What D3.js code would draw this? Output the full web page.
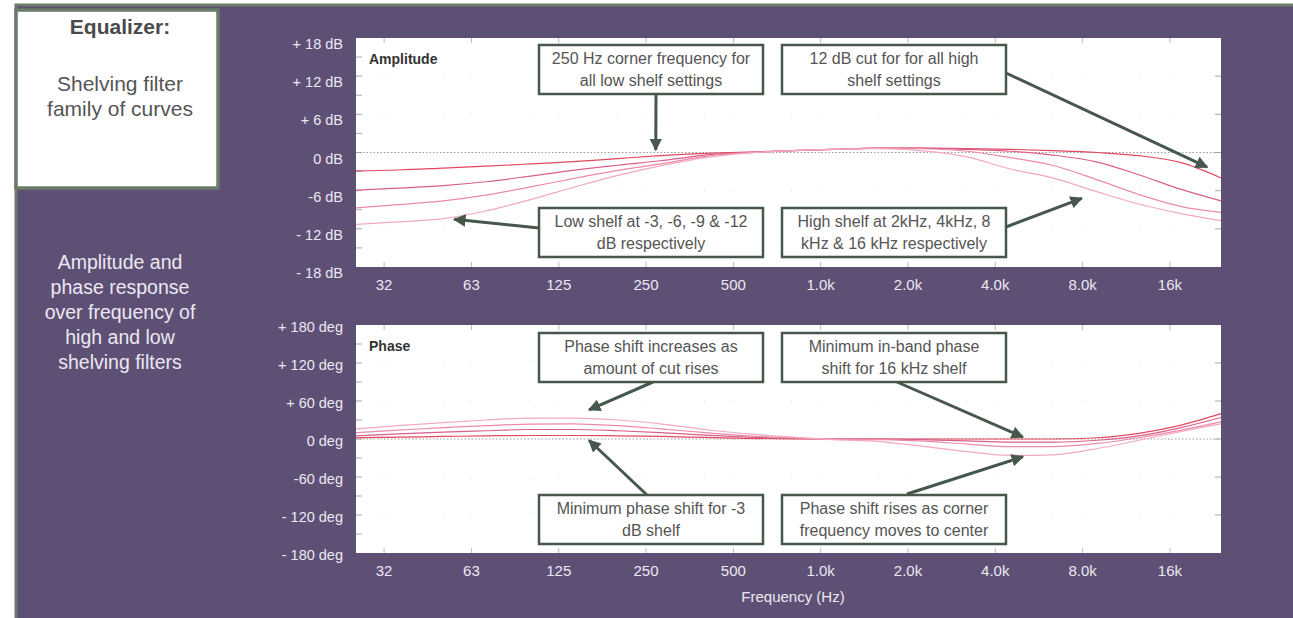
<!DOCTYPE html>
<html>
<head>
<meta charset="utf-8">
<script src="https://cdn.jsdelivr.net/npm/d3@7"></script>
<style>
  body { margin: 0; background: #fff; }
  svg { display: block; font-family: "Liberation Sans", Arial, sans-serif; }
</style>
</head>
<body>
<svg id="chart" width="1293" height="618"></svg>
<script>
// ---- data ----
var freqs = [25, 35, 50, 70, 100, 140, 200, 280, 400, 560, 800, 1100, 1600, 2200, 3200, 4500, 6300, 9000, 12500, 17500, 24000];

// amplitude (dB): low shelf -3/-6/-9/-12 combined with high shelf 16k/8k/4k/2k
var amp3dB  = [-2.9, -2.75, -2.45, -2.15, -1.8, -1.45, -0.95, -0.5, -0.15, 0.05, 0.3, 0.5, 0.7, 0.7, 0.6, 0.5, 0.3, 0.0, -0.5, -1.6, -4.0];
var amp6dB  = [-5.9, -5.6, -5.2, -4.6, -3.7, -2.8, -2.0, -1.3, -0.4, 0.0, 0.3, 0.5, 0.7, 0.7, 0.5, 0.2, -0.4, -1.5, -3.5, -5.8, -7.6];
var amp9dB  = [-8.7, -8.2, -7.6, -6.7, -5.4, -4.1, -2.8, -1.8, -0.6, -0.05, 0.3, 0.5, 0.7, 0.6, 0.2, -0.8, -2.0, -4.3, -6.6, -8.5, -9.4];
var amp12dB = [-11.3, -10.9, -10.4, -9.2, -7.4, -5.5, -3.6, -2.1, -0.8, -0.1, 0.3, 0.5, 0.6, 0.3, -0.7, -2.6, -4.0, -6.2, -8.1, -9.6, -10.7];

// phase (deg)
var ph3dB  = [2, 3, 4, 5, 5.5, 5.5, 5, 4, 2.5, 1, 0.3, 0, 0, 0, 0, 0, 0, 2, 9, 22, 40];
var ph6dB  = [5, 8, 11, 13, 15, 15, 13, 10, 6, 3, 1, 0, 0, -1, -3, -5, -5, -2, 5, 18, 34];
var ph9dB  = [10, 14, 18, 21, 23.5, 24, 21, 16, 10, 5, 2, 0, -1, -3, -8, -12, -12, -7, 2, 14, 27];
var ph12dB = [16, 21, 26, 30, 33, 33, 30, 24, 15, 8, 3, -1, -4, -11, -20, -26, -25, -15, -2, 12, 24];

var freqTicks  = [31.25, 62.5, 125, 250, 500, 1000, 2000, 4000, 8000, 16000];
var freqLabels = ["32", "63", "125", "250", "500", "1.0k", "2.0k", "4.0k", "8.0k", "16k"];
var ampTicks   = [18, 12, 6, 0, -6, -12, -18];
var ampLabels  = ["+ 18 dB", "+ 12 dB", "+ 6 dB", "0 dB", "-6 dB", "- 12 dB", "- 18 dB"];
var phTicks    = [180, 120, 60, 0, -60, -120, -180];
var phLabels   = ["+ 180 deg", "+ 120 deg", "+ 60 deg", "0 deg", "-60 deg", "- 120 deg", "- 180 deg"];

var lineColors = ["#e3485f", "#d9608a", "#ec8ba5", "#f3a9be"];

// annotations: box in pixels, arrow from box edge to a point in data space
var ampNotes = [
  {lines: ["250 Hz corner frequency for", "all low shelf settings"], box: [539, 45], from: [656, 95], to: [270, 0.4]},
  {lines: ["12 dB cut for for all high", "shelf settings"], box: [782, 45], from: [1006, 73], to: [21500, -2.3]},
  {lines: ["Low shelf at -3, -6, -9 & -12", "dB respectively"], box: [539, 208], from: [539, 228], to: [54.5, -10.5]},
  {lines: ["High shelf at 2kHz, 4kHz, 8", "kHz & 16 kHz respectively"], box: [782, 208], from: [1006, 227], to: [7950, -7.2]}
];
var phNotes = [
  {lines: ["Phase shift increases as", "amount of cut rises"], box: [539, 333], from: [653, 382], to: [159, 46]},
  {lines: ["Minimum in-band phase", "shift for 16 kHz shelf"], box: [782, 333], from: [897, 382], to: [4980, 3]},
  {lines: ["Minimum phase shift for -3", "dB shelf"], box: [539, 495], from: [647, 495], to: [159, -2]},
  {lines: ["Phase shift rises as corner", "frequency moves to center"], box: [782, 495], from: [907, 494], to: [4980, -28]}
];

var svg = d3.select("#chart");
var purple = "#5e5075", frameGreen = "#6b7b69", arrowCol = "#46574b";

svg.append("defs").append("marker")
    .attr("id", "head").attr("viewBox", "0 0 10 10")
    .attr("refX", 9).attr("refY", 5)
    .attr("markerWidth", 4.2).attr("markerHeight", 4.2)
    .attr("orient", "auto")
    .append("path").attr("d", "M0,0 L10,5 L0,10 z").attr("fill", arrowCol);

// background panel
svg.append("rect").attr("x", 16).attr("y", 5).attr("width", 1280).attr("height", 616)
    .attr("fill", purple).attr("stroke", frameGreen).attr("stroke-width", 3);

// title box
svg.append("rect").attr("x", 16).attr("y", 10).attr("width", 202).attr("height", 178)
    .attr("fill", "#fff").attr("stroke", frameGreen).attr("stroke-width", 3.5);
svg.append("text").attr("x", 120).attr("y", 34).attr("text-anchor", "middle")
    .attr("font-size", 21).attr("font-weight", "bold").attr("fill", "#4a4a4a").text("Equalizer:");
["Shelving filter", "family of curves"].forEach(function (t, i) {
    svg.append("text").attr("x", 120).attr("y", 91 + i * 25).attr("text-anchor", "middle")
        .attr("font-size", 21).attr("fill", "#555").text(t);
});
["Amplitude and", "phase response", "over frequency of", "high and low", "shelving filters"].forEach(function (t, i) {
    svg.append("text").attr("x", 120).attr("y", 269 + i * 25).attr("text-anchor", "middle")
        .attr("font-size", 19.5).attr("fill", "#ece8f2").text(t);
});

var x = d3.scaleLog().base(2).domain([25, 24000]).range([356, 1221]);

function drawPanel(top, bottom, domainMax, minorStep, majorStep, series, ticks, labels, labelDy, title, notes) {
    var y = d3.scaleLinear().domain([-domainMax, domainMax]).range([bottom, top]);
    var g = svg.append("g");
    g.append("rect").attr("x", 356).attr("y", top).attr("width", 865).attr("height", bottom - top)
        .attr("fill", "#fff");

    // faint grid
    g.selectAll(".gy").data(d3.range(-domainMax + majorStep, domainMax, majorStep).filter(function (d) { return d !== 0; }))
        .enter().append("line")
        .attr("x1", 356).attr("x2", 1221)
        .attr("y1", function (d) { return y(d); }).attr("y2", function (d) { return y(d); })
        .attr("stroke", "#d8d8d8").attr("stroke-width", 1).attr("stroke-dasharray", "1,86");
    g.selectAll(".gx").data(freqTicks).enter().append("line")
        .attr("x1", function (d) { return x(d); }).attr("x2", function (d) { return x(d); })
        .attr("y1", top).attr("y2", bottom)
        .attr("stroke", "#dcdcdc").attr("stroke-width", 1).attr("stroke-dasharray", "1,37");

    // edge ticks
    g.selectAll(".tl").data(d3.range(-domainMax + minorStep, domainMax, minorStep)).enter().append("line")
        .attr("x1", 356).attr("x2", 362)
        .attr("y1", function (d) { return y(d); }).attr("y2", function (d) { return y(d); })
        .attr("stroke", "#aaa");
    g.selectAll(".tr").data(d3.range(-domainMax + majorStep, domainMax, majorStep)).enter().append("line")
        .attr("x1", 1215).attr("x2", 1221)
        .attr("y1", function (d) { return y(d); }).attr("y2", function (d) { return y(d); })
        .attr("stroke", "#aaa");
    g.selectAll(".tb").data(freqTicks).enter().append("line")
        .attr("x1", function (d) { return x(d); }).attr("x2", function (d) { return x(d); })
        .attr("y1", bottom - 5).attr("y2", bottom)
        .attr("stroke", "#bbb");
    g.selectAll(".tt").data(freqTicks).enter().append("line")
        .attr("x1", function (d) { return x(d); }).attr("x2", function (d) { return x(d); })
        .attr("y1", top).attr("y2", top + 5)
        .attr("stroke", "#bbb");

    // zero line
    g.append("line").attr("x1", 356).attr("x2", 1221).attr("y1", y(0)).attr("y2", y(0))
        .attr("stroke", "#9a9a9a").attr("stroke-width", 1).attr("stroke-dasharray", "1.5,2");

    // curves
    var line = d3.line()
        .x(function (d, i) { return x(freqs[i]); })
        .y(function (d) { return y(d); })
        .curve(d3.curveMonotoneX);
    g.selectAll(".curve").data(series).enter().append("path")
        .attr("d", line)
        .attr("fill", "none")
        .attr("stroke", function (d, i) { return lineColors[i]; })
        .attr("stroke-width", 1.2);

    g.append("text").attr("x", 369).attr("y", top + 26).attr("font-size", 14)
        .attr("font-weight", "bold").attr("fill", "#333").text(title);

    // y labels
    g.selectAll(".yl").data(ticks).enter().append("text")
        .attr("x", 343).attr("y", function (d) { return y(d) + labelDy; })
        .attr("dy", "0.35em").attr("text-anchor", "end")
        .attr("font-size", 14.5).attr("fill", "#ece8f2")
        .text(function (d, i) { return labels[i]; });

    // x labels
    g.selectAll(".xl").data(freqTicks).enter().append("text")
        .attr("x", function (d) { return x(d); }).attr("y", bottom + 18)
        .attr("dy", "0.35em").attr("text-anchor", "middle")
        .attr("font-size", 15).attr("fill", "#ece8f2")
        .text(function (d, i) { return freqLabels[i]; });

    // annotations
    notes.forEach(function (n) {
        g.append("line")
            .attr("x1", n.from[0]).attr("y1", n.from[1])
            .attr("x2", x(n.to[0])).attr("y2", y(n.to[1]))
            .attr("stroke", arrowCol).attr("stroke-width", 3)
            .attr("marker-end", "url(#head)");
        g.append("rect").attr("x", n.box[0]).attr("y", n.box[1]).attr("width", 224).attr("height", 49)
            .attr("fill", "#fff").attr("stroke", "#47574a").attr("stroke-width", 2.5);
        n.lines.forEach(function (t, i) {
            g.append("text").attr("x", n.box[0] + 112).attr("y", n.box[1] + 19 + i * 22)
                .attr("text-anchor", "middle").attr("font-size", 16).attr("fill", "#555").text(t);
        });
    });
}

drawPanel(38, 267, 18, 3, 6, [amp3dB, amp6dB, amp9dB, amp12dB], ampTicks, ampLabels, 6, "Amplitude", ampNotes);
drawPanel(325, 553, 180, 30, 60, [ph3dB, ph6dB, ph9dB, ph12dB], phTicks, phLabels, 2, "Phase", phNotes);

svg.append("text").attr("x", 793).attr("y", 602).attr("text-anchor", "middle")
    .attr("font-size", 15).attr("fill", "#ece8f2").text("Frequency (Hz)");
</script>
</body>
</html>
